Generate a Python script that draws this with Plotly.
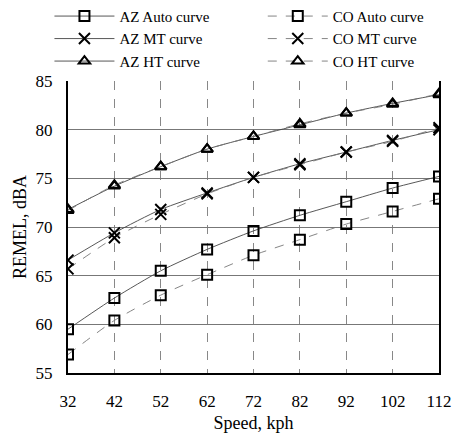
import plotly.graph_objects as go

speed = [32, 42, 52, 62, 72, 82, 92, 102, 112]
az_auto = [59.5, 62.7, 65.5, 67.7, 69.6, 71.2, 72.6, 74.0, 75.2]
co_auto = [56.9, 60.4, 63.0, 65.1, 67.1, 68.7, 70.3, 71.6, 72.9]
az_mt = [66.6, 69.4, 71.8, 73.5, 75.1, 76.5, 77.7, 78.9, 80.0]
co_mt = [65.7, 68.9, 71.3, 73.4, 75.1, 76.4, 77.7, 78.8, 80.2]
az_ht = [71.8, 74.2, 76.2, 78.0, 79.3, 80.5, 81.7, 82.7, 83.6]
co_ht = [71.7, 74.3, 76.2, 78.0, 79.3, 80.6, 81.7, 82.6, 83.7]

series = [
    ("AZ Auto curve", az_auto, "square-open", "solid", "legend"),
    ("AZ MT curve", az_mt, "x-thin-open", "solid", "legend"),
    ("AZ HT curve", az_ht, "triangle-up-open", "solid", "legend"),
    ("CO Auto curve", co_auto, "square-open", "dash", "legend2"),
    ("CO MT curve", co_mt, "x-thin-open", "dash", "legend2"),
    ("CO HT curve", co_ht, "triangle-up-open", "dash", "legend2"),
]

fig = go.Figure()
for name, vals, sym, dash, lg in series:
    size = 11 if "x-thin" in sym else 10
    fig.add_trace(go.Scatter(
        x=speed, y=vals, name=name, mode="lines+markers", legend=lg,
        line=dict(color="#444444" if dash == "solid" else "#777777", width=0.9, dash=dash, shape="spline", smoothing=0.6),
        marker=dict(symbol=sym, size=size, color="black", line=dict(color="black", width=2)),
    ))

font = dict(family="Liberation Serif, Times New Roman, serif", size=15, color="black")
leg_common = dict(orientation="v", yanchor="top", xanchor="left", itemwidth=60,
                  traceorder="normal", font=font, bgcolor="rgba(0,0,0,0)", tracegroupgap=0)
fig.update_layout(
    width=459, height=435,
    margin=dict(l=68, r=20, t=81, b=62, autoexpand=False),
    paper_bgcolor="white", plot_bgcolor="white",
    font=font,
    legend=dict(x=-0.05, y=1.278, **leg_common),
    legend2=dict(x=0.525, y=1.278, **leg_common),
    xaxis=dict(range=[32, 112], tickvals=speed, ticktext=[str(s) for s in speed],
               showgrid=True, gridcolor="#888888", griddash="dash", gridwidth=1,
               showline=True, linecolor="black", linewidth=2, ticks="",
               tickfont=dict(size=17), ticklabelstandoff=12,
               title=dict(text="Speed, kph", standoff=6), zeroline=False),
    yaxis=dict(range=[55, 85], dtick=5, showgrid=True, gridcolor="#777777", gridwidth=1,
               showline=True, linecolor="black", linewidth=2, mirror=True, ticks="",
               tickfont=dict(size=17), ticklabelstandoff=10,
               title=dict(text="REMEL, dBA", standoff=4), zeroline=False),
)
fig.write_html("out.html", post_script="document.body.style.margin='0';",
               config={"displayModeBar": False})
